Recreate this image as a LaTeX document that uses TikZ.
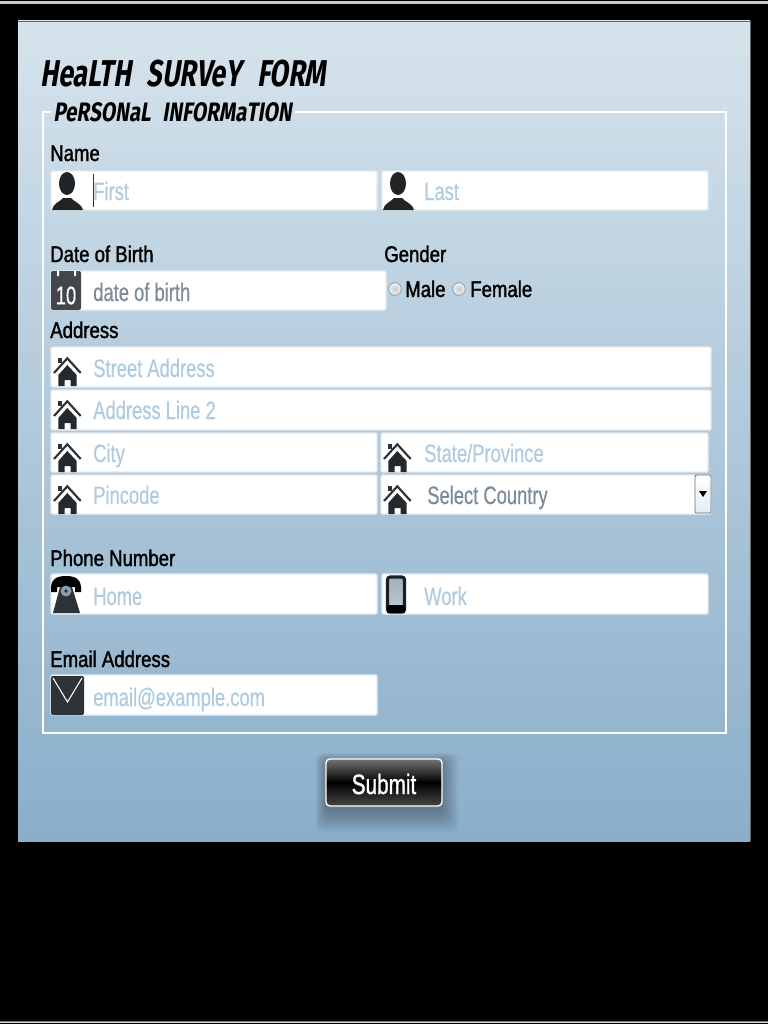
\documentclass[tikz,border=0pt]{standalone}
\usepackage{fontspec}
\setmainfont{Liberation Sans}
\newfontfamily\labf[FakeStretch=0.82,FakeBold=1.5]{Liberation Sans}
\newfontfamily\phf[FakeStretch=0.725,FakeBold=0.4]{Liberation Sans}
\newfontfamily\subf[FakeStretch=0.74,FakeBold=1]{Liberation Sans}
\newfontfamily\dispf[FakeSlant=0.16,FakeStretch=0.72]{Fira Sans}
\newfontfamily\legf[FakeSlant=0.16,FakeStretch=0.775]{Fira Sans}
\definecolor{ph}{HTML}{AECBE0}
\definecolor{valc}{HTML}{7C8B97}
\definecolor{panelT}{HTML}{D6E3EC}
\definecolor{panelB}{HTML}{8AAECA}
\definecolor{icon}{HTML}{2E3338}
\definecolor{fieldedge}{HTML}{E2ECF3}
\tikzset{
  fieldbox/.style={fill=white,draw=fieldedge,line width=1pt,rounded corners=1pt},
  labeltext/.style={anchor=base west,inner sep=0pt,font=\labf\fontsize{17}{20}\selectfont,text=black},
  phtext/.style={anchor=base west,inner sep=0pt,font=\phf\fontsize{19}{22}\selectfont,text=ph},
  valtext/.style={anchor=base west,inner sep=0pt,font=\phf\fontsize{19}{22}\selectfont,text=valc},
  disp/.style={anchor=base west,inner sep=0pt,text=black},
  radio/.style={circle,draw=ph!85!black,line width=.8pt,inner color=black!22,outer color=white!85!ph,minimum size=9.5pt,inner sep=0pt},
}
\newcommand{\fieldrect}[4]{\path[fieldbox] (#1,#2) rectangle (#3,#4);}
\newcommand{\personicon}[2]{\begin{scope}[shift={(#1,#2)}]
  \fill[icon!70!black] (16,12.5) ellipse (8 and 11.5);
  \fill[icon!70!black] (1,39) .. controls (2,32) and (9,31) .. (12,27) -- (20,27) .. controls (23,31) and (30,32) .. (32,39) -- cycle;
\end{scope}}
\newcommand{\houseicon}[2]{\begin{scope}[shift={(#1,#2)}]
  \draw[icon,line width=1.6pt] (3,26) -- (16.3,11.3) -- (29.7,26);
  \fill[icon] (7,11) rectangle (10.5,16);
  \fill[icon!80!black] (16.3,18) -- (7.3,28) -- (7.3,39) -- (13.5,39) -- (13.5,33) -- (19.5,33) -- (19.5,39) -- (25.7,39) -- (25.7,28) -- cycle;
\end{scope}}
\begin{document}
\begin{tikzpicture}[x=0.75pt,y=-0.75pt]
\useasboundingbox (0,0) rectangle (768,1024);
\fill[black] (0,0) rectangle (768,1024);
\fill[panelT!90!black] (0,1.5) rectangle (768,4.3);
\fill[black!55] (0,1020.5) rectangle (768,1021.7);
\fill[panelT] (0,1021.7) rectangle (768,1023.4);
% panel
\shade[top color=panelT,bottom color=panelB] (18,21) rectangle (750,841);
\draw[black!60,line width=.5pt] (18,21) -- (750,21) -- (750,841);
% title
\node[disp,font=\dispf\bfseries\fontsize{28}{32}\selectfont] (title) at (40,87) {HeaLTH\hspace{.25em} SURVeY\hspace{.25em} FORM};
% fieldset
\draw[white,line width=1.5pt] (51,111.5) -- (42.5,111.5) -- (42.5,733) -- (726,733) -- (726,111.5) -- (295,111.5);
\node[disp,font=\legf\bfseries\fontsize{20}{23}\selectfont] (legend) at (53,121) {PeRSONaL\hspace{.25em} INFORMaTION};
% labels
\node[labeltext] (lname) at (50,161) {Name};
\node[labeltext] (ldob) at (50,262) {Date of Birth};
\node[labeltext] (lgender) at (384,262) {Gender};
\node[labeltext] (laddr) at (50,338) {Address};
\node[labeltext] (lphone) at (50,566) {Phone Number};
\node[labeltext] (lemail) at (50,667) {Email Address};
% fields
\fieldrect{51}{171}{377}{210}
\fieldrect{382}{171}{708}{210}
\fieldrect{51}{271}{386}{310}
\fieldrect{51}{347}{711}{387}
\fieldrect{51}{390}{711}{430}
\fieldrect{51}{433}{377}{472}
\fieldrect{381}{433}{708}{472}
\fieldrect{51}{475}{377}{514}
\fieldrect{381}{475}{711}{514}
\fieldrect{51}{574}{377}{614}
\fieldrect{382}{574}{708}{614}
\fieldrect{51}{675}{377}{715}
% field texts
\node[phtext] (first) at (93,200) {First};
\node[phtext] (last) at (424,200) {Last};
\node[valtext] (dob) at (93,301) {date of birth};
\node[phtext] (street) at (93,377) {Street Address};
\node[phtext] (line2) at (93,419) {Address Line 2};
\node[phtext] (city) at (93,462) {City};
\node[phtext] (state) at (424,462) {State/Province};
\node[phtext] (pin) at (93,504) {Pincode};
\node[valtext] (country) at (427,504) {Select Country};
\node[phtext] (home) at (93,605) {Home};
\node[phtext] (work) at (424,605) {Work};
\node[phtext] (email) at (93,706) {email@example.com};
% cursor
\draw[icon,line width=.6pt] (93.5,174) -- (93.5,207);
% person icons
\personicon{51}{171}
\personicon{382}{171}
% calendar
\fill[icon!90!white,rounded corners=1.5pt] (51,271) rectangle (81,310);
\fill[white] (57,270) rectangle (59,276) (74,270) rectangle (76,276);
\node[inner sep=0pt,text=white,font=\phf\fontsize{19}{22}\selectfont] (cal) at (66,295.5) {10};
% houses
\houseicon{51}{347}
\houseicon{51}{390}
\houseicon{51}{433}
\houseicon{381}{433}
\houseicon{51}{475}
\houseicon{381}{475}
% gender
\node[radio] (rm) at (395,289) {};
\node[radio] (rf) at (459,289) {};
\node[labeltext] (male) at (405,297) {Male};
\node[labeltext] (female) at (470,297) {Female};
% select button
\shade[top color=white,bottom color=fieldedge,draw=icon!70,line width=.7pt,rounded corners=1pt] (695,475) rectangle (711,513);
\fill[black] (699,491) -- (707,491) -- (703,497) -- cycle;
% telephone
\begin{scope}[shift={(51,574)}]
  \fill[black] (0,13) .. controls (1,3) and (8,2) .. (15,2) .. controls (22,2) and (29,3) .. (30,13) -- (30,18) -- (24,18) -- (24,13) -- (6,13) -- (6,18) -- (0,18) -- cycle;
  \fill[icon] (9,13) -- (21,13) -- (29,39) -- (2,39) -- cycle;
  \fill[ph!70!icon] (15,17) circle (5.5);
  \fill[icon] (15,17) circle (1.8);
\end{scope}
% mobile
\shade[top color=panelT!70!icon,middle color=panelT,bottom color=panelB!60!white,draw=icon!60!black,line width=2.4pt,rounded corners=2pt] (387.5,577) rectangle (404.5,612);
\fill[black] (387,605) rectangle (405,613);
% envelope
\fill[icon,rounded corners=1.5pt] (51,676) rectangle (84,715);
\draw[white,line width=.8pt] (53,678) -- (67.5,702) -- (82,678);
% submit shadow
\foreach \d in {1,2,...,10}{
  \fill[black,opacity=.03,rounded corners=5pt] (326-\d*1,763-\d*1) rectangle (442+\d*1.6,810+\d*2.2);
}
\shade[draw=white,line width=1pt,rounded corners=3pt,top color=black!55,bottom color=black!72,middle color=black] (326,759) rectangle (442,806);
\node[inner sep=0pt,text=white,font=\subf\fontsize{21}{24}\selectfont] (submit) at (384,784) {Submit};
\end{tikzpicture}
\end{document}
